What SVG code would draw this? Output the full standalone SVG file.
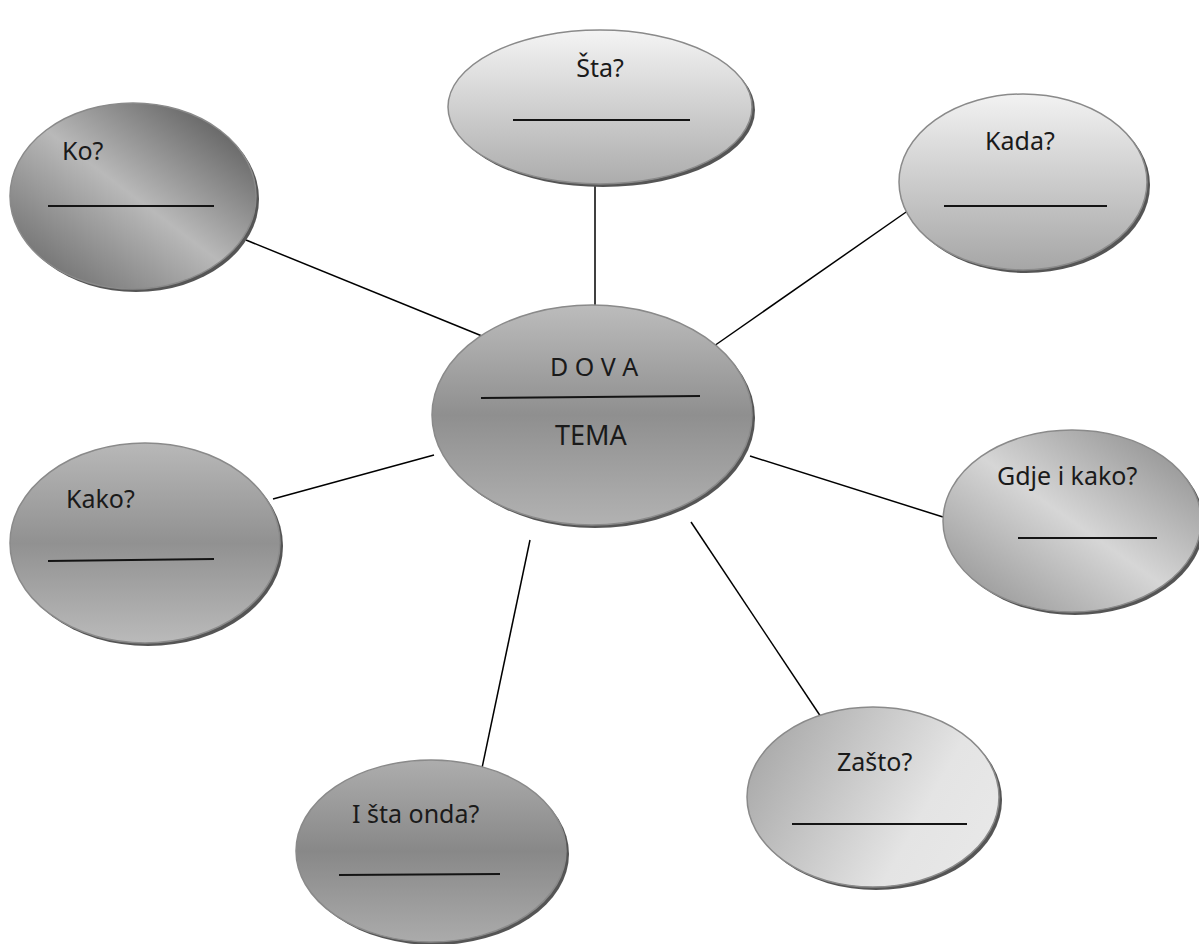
<svg xmlns="http://www.w3.org/2000/svg" width="1199" height="944" viewBox="0 0 1199 944">
<style>
.lbl{font-family:"Noto Sans","Open Sans","DejaVu Sans",sans-serif;font-size:25px;fill:#1a1a1a}
.sh{fill:#555555}
.out{stroke:#8a8a8a;stroke-width:1.5}
.blank{stroke:#141414;stroke-width:1.8}
.conn line{stroke:#000;stroke-width:1.5}
</style>
<defs>
<linearGradient id="gKo" x1="1" y1="0" x2="0" y2="1">
<stop offset="0" stop-color="#4a4a4a"/><stop offset="0.5" stop-color="#b9b9b9"/><stop offset="1" stop-color="#5e5e5e"/>
</linearGradient>
<linearGradient id="gSta" x1="0" y1="0" x2="0" y2="1">
<stop offset="0" stop-color="#f4f4f4"/><stop offset="1" stop-color="#acacac"/>
</linearGradient>
<linearGradient id="gKada" x1="0" y1="0" x2="0" y2="1">
<stop offset="0" stop-color="#f2f2f2"/><stop offset="1" stop-color="#a6a6a6"/>
</linearGradient>
<linearGradient id="gCen" x1="0" y1="0" x2="0" y2="1">
<stop offset="0" stop-color="#bcbcbc"/><stop offset="0.5" stop-color="#8f8f8f"/><stop offset="1" stop-color="#b2b2b2"/>
</linearGradient>
<linearGradient id="gGdje" x1="1" y1="0" x2="0" y2="1">
<stop offset="0" stop-color="#858585"/><stop offset="0.5" stop-color="#d6d6d6"/><stop offset="1" stop-color="#8c8c8c"/>
</linearGradient>
<linearGradient id="gZas" x1="0" y1="0.3" x2="1" y2="0.7">
<stop offset="0" stop-color="#a9a9a9"/><stop offset="0.7" stop-color="#e4e4e4"/><stop offset="1" stop-color="#e8e8e8"/>
</linearGradient>
<linearGradient id="gIsta" x1="0" y1="0" x2="0" y2="1">
<stop offset="0" stop-color="#adadad"/><stop offset="0.5" stop-color="#888888"/><stop offset="1" stop-color="#ababab"/>
</linearGradient>
<linearGradient id="gKako" x1="0" y1="0" x2="0" y2="1">
<stop offset="0" stop-color="#b8b8b8"/><stop offset="0.5" stop-color="#919191"/><stop offset="1" stop-color="#bababa"/>
</linearGradient>
</defs>
<rect width="1199" height="944" fill="#ffffff"/>
<g id="connectors" class="conn">
<line x1="246" y1="240" x2="482" y2="336"/>
<line x1="595" y1="186" x2="595" y2="307"/>
<line x1="909" y1="210" x2="714" y2="346"/>
<line x1="273" y1="499" x2="434" y2="455"/>
<line x1="750" y1="456" x2="943" y2="517"/>
<line x1="691" y1="522" x2="821" y2="717"/>
<line x1="530" y1="540" x2="482" y2="768"/>
</g>
<g id="node-ko">
<ellipse class="sh" cx="136" cy="199" rx="123" ry="93"/>
<ellipse class="out" cx="133" cy="196" rx="123" ry="93" fill="url(#gKo)"/>
<text class="lbl" x="62" y="160">Ko?</text>
<line class="blank" x1="48" y1="206" x2="214" y2="206"/>
</g>
<g id="node-sta">
<ellipse class="sh" cx="603" cy="110" rx="152" ry="77"/>
<ellipse class="out" cx="600" cy="107" rx="152" ry="77" fill="url(#gSta)"/>
<text class="lbl" x="600" y="77" text-anchor="middle">Šta?</text>
<line class="blank" x1="513" y1="120" x2="690" y2="120"/>
</g>
<g id="node-kada">
<ellipse class="sh" cx="1026" cy="185" rx="124" ry="88"/>
<ellipse class="out" cx="1023" cy="182" rx="124" ry="88" fill="url(#gKada)"/>
<text class="lbl" x="985" y="150">Kada?</text>
<line class="blank" x1="944" y1="206" x2="1107" y2="206"/>
</g>
<g id="node-center">
<ellipse class="sh" cx="595" cy="418" rx="160" ry="110"/>
<ellipse class="out" cx="592" cy="415" rx="160" ry="110" fill="url(#gCen)"/>
<text class="lbl" x="550" y="376" style="font-size:25px">D O V A</text>
<line class="blank" x1="481" y1="398" x2="700" y2="396"/>
<text class="lbl" x="555" y="445" style="font-size:27px">TEMA</text>
</g>
<g id="node-gdje">
<ellipse class="sh" cx="1075" cy="524" rx="129" ry="91"/>
<ellipse class="out" cx="1072" cy="521" rx="129" ry="91" fill="url(#gGdje)"/>
<text class="lbl" x="997" y="485">Gdje i kako?</text>
<line class="blank" x1="1018" y1="538" x2="1157" y2="538"/>
</g>
<g id="node-zasto">
<ellipse class="sh" cx="876" cy="800" rx="126" ry="90"/>
<ellipse class="out" cx="873" cy="797" rx="126" ry="90" fill="url(#gZas)"/>
<text class="lbl" x="837" y="771">Zašto?</text>
<line class="blank" x1="792" y1="824" x2="967" y2="824"/>
</g>
<g id="node-ista">
<ellipse class="sh" cx="434" cy="854" rx="135" ry="91"/>
<ellipse class="out" cx="431" cy="851" rx="135" ry="91" fill="url(#gIsta)"/>
<text class="lbl" x="352" y="823">I šta onda?</text>
<line class="blank" x1="339" y1="875" x2="500" y2="874"/>
</g>
<g id="node-kako">
<ellipse class="sh" cx="148" cy="546" rx="135" ry="100"/>
<ellipse class="out" cx="145" cy="543" rx="135" ry="100" fill="url(#gKako)"/>
<text class="lbl" x="66" y="508">Kako?</text>
<line class="blank" x1="48" y1="561" x2="214" y2="559"/>
</g>
</svg>
